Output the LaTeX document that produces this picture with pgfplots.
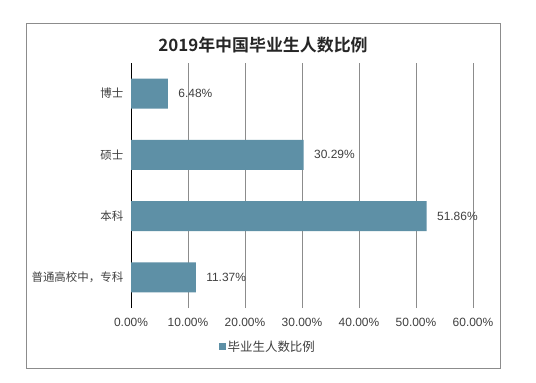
\documentclass[border=0pt]{standalone}
\usepackage{fontspec}
\setmainfont{Liberation Sans}
\newfontfamily\cjk{Noto Sans CJK SC}
\newfontfamily\cjkbold{Noto Sans CJK SC Bold}
\usepackage{pgfplots}
\pgfplotsset{compat=1.18}
\definecolor{barc}{HTML}{5E90A6}
\definecolor{gridc}{HTML}{8C8C8C}
\definecolor{txt}{HTML}{404040}
\begin{document}
\begin{tikzpicture}[x=1bp,y=1bp]
\path[use as bounding box] (0,0) rectangle (536,382);
\fill[white] (0,0) rectangle (536,382);
\draw[gridc, line width=0.8bp] (26,14) rectangle (500,359);
\node[font=\cjkbold\fontsize{17}{19}\selectfont, text=black!85] at (263,337) {2019年中国毕业生人数比例};
\begin{axis}[
  at={(131bp,74bp)}, anchor=south west,
  width=342bp, height=245bp, scale only axis,
  xbar, bar width=30bp,
  xmin=0, xmax=60, ymin=-0.5, ymax=3.5,
  xtick={0,10,...,60},
  ytick={0,1,2,3},
  yticklabels={普通高校中，专科,本科,硕士,博士},
  yticklabel style={font=\cjk\fontsize{11.5}{13}\selectfont, text=txt},
  xticklabel={\pgfmathprintnumber[fixed,fixed zerofill,precision=2]{\tick}\%},
  xticklabel style={font=\fontsize{12}{14}\selectfont, text=txt, yshift=-7bp},
  /pgf/number format/assume math mode=true,
  xmajorgrids, major grid style={gridc, line width=0.6bp},
  axis x line*=bottom,
  x axis line style={draw=none},
  axis y line*=left,
  y axis line style={black, line width=0.8bp},
  tick style={draw=none},
  axis line style={-},
  nodes near coords={\pgfmathprintnumber[fixed,fixed zerofill,precision=2]{\pgfplotspointmeta}\%},
  nodes near coords style={font=\fontsize{12}{14}\selectfont, text=txt, anchor=west, xshift=7bp},
  point meta=x,
  legend style={at={(0.40,-0.159)}, anchor=center, draw=none, font=\cjk\fontsize{12.5}{14}\selectfont, text=txt, inner sep=1bp},
  legend image code/.code={\fill[barc] (0bp,-3.5bp) rectangle (7bp,3.5bp);},
  clip=false,
]
\addplot[fill=barc, draw=none] coordinates {(11.37,0) (51.86,1) (30.29,2) (6.48,3)};
\addlegendentry{毕业生人数比例}
\end{axis}
\end{tikzpicture}
\end{document}
